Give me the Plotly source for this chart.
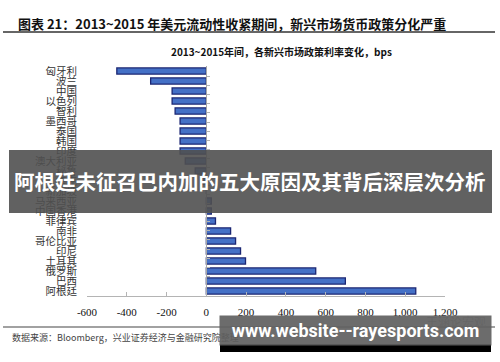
import plotly.graph_objects as go

# ---- data ----
countries = ["匈牙利", "波兰", "中国", "以色列", "智利", "墨西哥", "泰国", "韩国", "印度",
             "澳大利亚", "秘鲁", "捷克", "新加坡", "马来西亚", "中国香港", "菲律宾", "南非",
             "哥伦比亚", "印尼", "土耳其", "俄罗斯", "巴西", "阿根廷"]
changes_bps = [-450, -280, -172, -172, -157, -132, -132, -132, -132,
               -106, -56, -25, 0, 25, 25, 46, 122,
               147, 172, 197, 550, 699, 1053]
x_ticks = [-600, -400, -200, 0, 200, 400, 600, 800, 1000, 1200]
x_tick_labels = ["-600", "-400", "-200", "0", "200", "400", "600", "800", "1,000", "1,200"]

title_text = "图表 21：2013~2015 年美元流动性收紧期间，新兴市场货币政策分化严重"
chart_title = "2013~2015年间，各新兴市场政策利率变化，bps"
source_text = "数据来源：Bloomberg，兴业证券经济与金融研究院整理"
banner_text = "阿根廷未征召巴内加的五大原因及其背后深层次分析"
site_text = "www.website--rayesports.com"
watermark_text = "王涵论宏观"

# ---- layout geometry (pixels) ----
W, H = 500, 362
L, R, T, B = 87, 55, 66, 66
PW, PH = W - L - R, H - T - B


def px(x):
    return (x - L) / PW


def py(y):
    return (H - B - y) / PH


fig = go.Figure()
fig.add_trace(go.Bar(
    x=changes_bps, y=countries, orientation="h",
    marker=dict(color="#4470c6", line=dict(color="#1b2673", width=1.3)),
    width=0.62, showlegend=False, hoverinfo="skip",
))
# invisible trace to carry the zero-axis tick marks
fig.add_trace(go.Scatter(
    x=[0] * len(countries), y=countries, yaxis="y2", mode="markers",
    marker=dict(opacity=0), showlegend=False, hoverinfo="skip",
))

serif = "Liberation Serif, Times New Roman, serif"
cjk = "Noto Sans CJK SC"

fig.update_layout(
    width=W, height=H,
    margin=dict(l=L, r=R, t=T, b=B, pad=0, autoexpand=False),
    paper_bgcolor="white", plot_bgcolor="white",
    xaxis=dict(
        range=[-600, 1200], tickvals=x_ticks, ticktext=x_tick_labels,
        showline=True, linecolor="#b4b4b4", linewidth=1.2,
        ticks="inside", ticklen=4, tickcolor="#b4b4b4",
        showgrid=False, zeroline=False, automargin=False,
        tickfont=dict(family=serif, size=11, color="#111"),
        ticklabelstandoff=6,
    ),
    yaxis=dict(
        type="category", categoryorder="array", categoryarray=countries,
        autorange="reversed", showgrid=False, showline=False, ticks="",
        dtick=1, automargin=False,
        tickfont=dict(family=cjk, size=10.5, color="#333"),
        ticklabelstandoff=9,
    ),
    yaxis2=dict(
        type="category", categoryorder="array", categoryarray=countries,
        autorange="reversed", overlaying="y", anchor="free",
        position=(0 - (-600)) / 1800, side="right", automargin=False,
        showline=True, linecolor="#a8a8a8", linewidth=1.2, dtick=1,
        ticks="outside", ticklen=3, tickcolor="#b4b4b4", tickson="boundaries",
        showticklabels=False, showgrid=False, zeroline=False,
    ),
    shapes=[
        dict(type="line", xref="paper", yref="paper", x0=px(3), x1=px(495),
             y0=py(32), y1=py(32), line=dict(color="#333", width=1.5)),
        dict(type="line", xref="paper", yref="paper", x0=px(3), x1=px(495),
             y0=py(327), y1=py(327), line=dict(color="#444", width=1.2)),
        dict(type="rect", xref="paper", yref="paper", x0=px(9), x1=px(492),
             y0=py(213), y1=py(150), line=dict(width=0),
             fillcolor="rgba(80,80,80,0.9)", layer="above"),
        dict(type="rect", xref="paper", yref="paper", x0=px(220), x1=px(491),
             y0=py(352), y1=py(344), line=dict(width=0),
             fillcolor="black", layer="above"),
    ],
    annotations=[
        dict(text=f"<b>{title_text}</b>", xref="paper", yref="paper",
             x=px(16), y=py(24), xanchor="left", yanchor="middle", showarrow=False,
             font=dict(family=cjk, size=13, color="#111")),
        dict(text=f"<b>{chart_title}</b>", xref="paper", yref="paper",
             x=px(281), y=py(52), xanchor="center", yanchor="middle", showarrow=False,
             font=dict(family=cjk + ", " + serif, size=10, color="#111")),
        dict(text=source_text, xref="paper", yref="paper",
             x=px(10), y=py(337), xanchor="left", yanchor="middle", showarrow=False,
             font=dict(family=cjk, size=9, color="#444")),
        dict(text=watermark_text, xref="paper", yref="paper",
             x=px(488), y=py(321), xanchor="right", yanchor="middle", showarrow=False,
             font=dict(family=cjk, size=12, color="#aaa")),
        dict(text=f"<b>{banner_text}</b>", xref="paper", yref="paper",
             x=px(250), y=py(181), xanchor="center", yanchor="middle", showarrow=False,
             font=dict(family=cjk, size=20.5, color="white")),
        dict(text=f"<b>{site_text}</b>", xref="paper", yref="paper",
             x=px(355), y=py(330), xanchor="center", yanchor="middle", showarrow=False,
             width=271, height=29, bgcolor="rgba(95,95,95,0.92)", borderpad=0,
             font=dict(family="Roboto, Open Sans, sans-serif", size=18, color="white")),
    ],
)

fig.write_html("out.html", config={"displayModeBar": False},
               post_script="document.body.style.margin='0';document.body.style.padding='0';")
